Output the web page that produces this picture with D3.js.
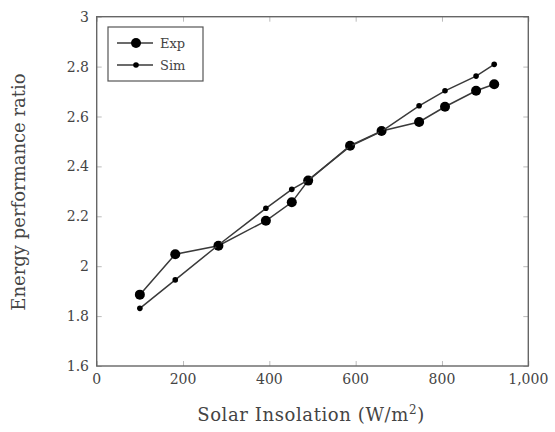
<!DOCTYPE html>
<html>
<head>
<meta charset="utf-8">
<script src="https://cdn.jsdelivr.net/npm/d3@7"></script>
<style>
  html, body { margin: 0; padding: 0; background: #fff; }
  svg { display: block; }
</style>
</head>
<body>
<svg id="chart" width="555" height="432"></svg>
<script>
// Solar insolation (W/m²) at each measurement
const insolation = [100, 182, 282, 392, 452, 490, 587, 660, 747, 807, 879, 921];
// Energy performance ratio, experiment and simulation
const expRatio = [1.886, 2.048, 2.082, 2.182, 2.256, 2.343, 2.483, 2.542, 2.578, 2.639, 2.703, 2.729];
const simRatio = [1.831, 1.945, 2.085, 2.232, 2.308, 2.345, 2.48, 2.54, 2.643, 2.703, 2.762, 2.809];
const xTicks = [0, 200, 400, 600, 800, 1000];
const yTicks = [1.6, 1.8, 2, 2.2, 2.4, 2.6, 2.8, 3];
const seriesNames = ["Exp", "Sim"];

const FONT = "'DejaVu Serif', 'Liberation Serif', serif";
const TEXT = "#444";

const svg = d3.select("#chart");
const m = { left: 96.7, right: 528.3, top: 16.7, bottom: 366 };

const x = d3.scaleLinear().domain([0, 1000]).range([m.left, m.right]);
const y = d3.scaleLinear().domain([1.6, 3]).range([m.bottom, m.top]);

const fmtX = d3.format(",");
const fmtY = d => String(+d.toFixed(1));

// inward ticks on all four sides
const tickColor = "#bbb";
const g = svg.append("g");
g.append("g").attr("transform", `translate(0,${m.bottom})`)
  .call(d3.axisTop(x).tickValues(xTicks).tickSize(5).tickFormat(""));
g.append("g").attr("transform", `translate(0,${m.top})`)
  .call(d3.axisBottom(x).tickValues(xTicks).tickSize(5).tickFormat(""));
g.append("g").attr("transform", `translate(${m.left},0)`)
  .call(d3.axisRight(y).tickValues(yTicks).tickSize(5).tickFormat(""));
g.append("g").attr("transform", `translate(${m.right},0)`)
  .call(d3.axisLeft(y).tickValues(yTicks).tickSize(5).tickFormat(""));
g.selectAll(".domain").remove();
g.selectAll(".tick line").attr("stroke", tickColor).attr("stroke-width", 1);

// tick labels
svg.append("g").selectAll("text").data(xTicks).join("text")
  .attr("x", d => x(d)).attr("y", 384)
  .attr("text-anchor", "middle").attr("font-size", 14)
  .attr("font-family", FONT).attr("fill", TEXT)
  .text(fmtX);
svg.append("g").selectAll("text").data(yTicks).join("text")
  .attr("x", 89).attr("y", d => y(d) + 5)
  .attr("text-anchor", "end").attr("font-size", 14)
  .attr("font-family", FONT).attr("fill", TEXT)
  .text(fmtY);

// frame
svg.append("rect")
  .attr("x", m.left).attr("y", m.top)
  .attr("width", m.right - m.left).attr("height", m.bottom - m.top)
  .attr("fill", "none").attr("stroke", "#666").attr("stroke-width", 1.4);

// axis titles
const xt = svg.append("text")
  .attr("x", 311).attr("y", 421)
  .attr("text-anchor", "middle").attr("font-size", 18)
  .attr("letter-spacing", 0.6)
  .attr("font-family", FONT).attr("fill", TEXT);
xt.append("tspan").text("Solar Insolation (W/m");
xt.append("tspan").attr("font-size", 12).attr("dy", -7).text("2");
xt.append("tspan").attr("dy", 7).text(")");

svg.append("text")
  .attr("transform", `translate(25,192) rotate(-90)`)
  .attr("text-anchor", "middle").attr("font-size", 18)
  .attr("font-family", FONT).attr("fill", TEXT)
  .text("Energy performance ratio");

// series
const series = [
  { name: seriesNames[0], values: expRatio, r: 5 },
  { name: seriesNames[1], values: simRatio, r: 2.8 }
];
const line = d3.line().x(d => x(d[0])).y(d => y(d[1]));

series.forEach(s => {
  const pts = insolation.map((v, i) => [v, s.values[i]]);
  svg.append("path").datum(pts)
    .attr("d", line).attr("fill", "none")
    .attr("stroke", "#3a3a3a").attr("stroke-width", 1.5);
  svg.append("g").selectAll("circle").data(pts).join("circle")
    .attr("cx", d => x(d[0])).attr("cy", d => y(d[1]))
    .attr("r", s.r).attr("fill", "#000");
});

// legend
const lg = svg.append("g");
lg.append("rect")
  .attr("x", 108).attr("y", 27).attr("width", 95).attr("height", 54)
  .attr("fill", "#fff").attr("stroke", "#555").attr("stroke-width", 1.2);
series.forEach((s, i) => {
  const yy = 43 + i * 22;
  lg.append("line").attr("x1", 117).attr("x2", 153).attr("y1", yy).attr("y2", yy)
    .attr("stroke", "#3a3a3a").attr("stroke-width", 1.5);
  lg.append("circle").attr("cx", 136).attr("cy", yy).attr("r", s.r).attr("fill", "#000");
  lg.append("text").attr("x", 160).attr("y", yy + 4.5).attr("font-size", 13)
    .attr("font-family", FONT).attr("fill", TEXT).text(s.name);
});
</script>
</body>
</html>
